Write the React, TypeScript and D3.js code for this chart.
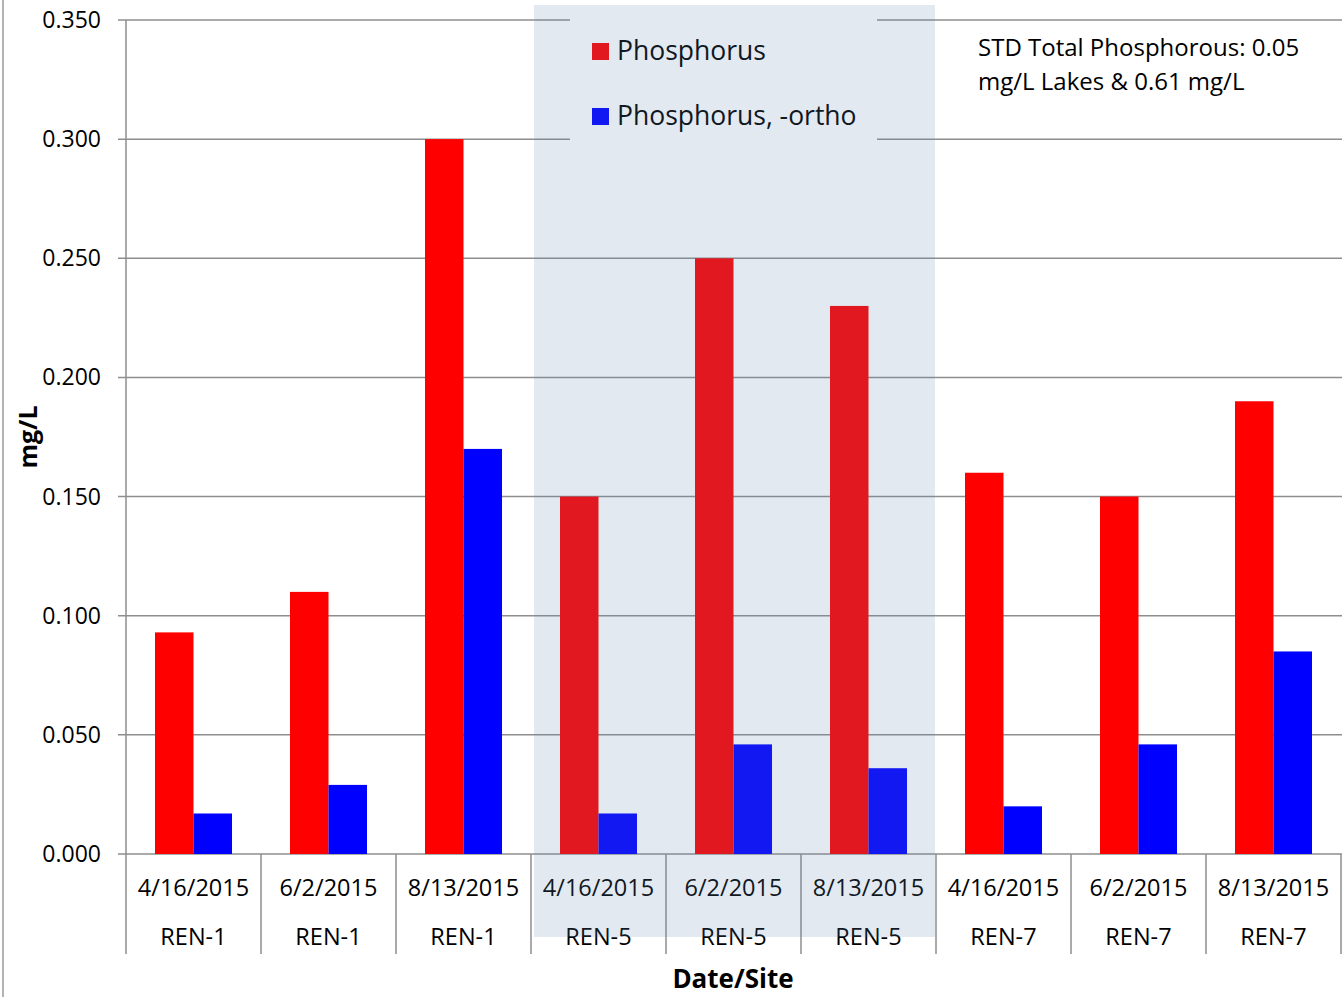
import React from "react";
import * as d3 from "d3";

const dates = ["4/16/2015", "6/2/2015", "8/13/2015", "4/16/2015", "6/2/2015", "8/13/2015", "4/16/2015", "6/2/2015", "8/13/2015"];
const sites = ["REN-1", "REN-1", "REN-1", "REN-5", "REN-5", "REN-5", "REN-7", "REN-7", "REN-7"];
const phosphorus = [0.093, 0.11, 0.3, 0.15, 0.25, 0.23, 0.16, 0.15, 0.19];
const orthoPhosphorus = [0.017, 0.029, 0.17, 0.017, 0.046, 0.036, 0.02, 0.046, 0.085];
const seriesNames = ["Phosphorus", "Phosphorus, -ortho"];
const seriesColors = ["#ff0000", "#0000ff"];
const yTicks = [0, 0.05, 0.1, 0.15, 0.2, 0.25, 0.3, 0.35];
const noteLines = ["STD Total Phosphorous: 0.05", "mg/L Lakes & 0.61 mg/L"];
const highlightedSite = "REN-5";

const W = 1342;
const H = 997;
const FONT = "'Open Sans', 'Noto Sans', sans-serif";

export default function App() {
  const left = 126;
  const right = 1341;
  const top = 20;
  const bottom = 854;
  const idx = dates.map((_, i) => i);
  const x = d3.scaleBand<number>().domain(idx).range([left, right]).paddingInner(0).paddingOuter(0);
  const xs = d3.scaleBand<number>().domain([0, 1]).range([0, x.bandwidth()]).paddingInner(0).paddingOuter(0.753);
  const y = d3.scaleLinear().domain([0, 0.35]).range([bottom, top]);
  const series = [phosphorus, orthoPhosphorus];
  const fmt = d3.format(".3f");
  const grid = "#8e8e8e";

  const hiIdx = idx.filter((i) => sites[i] === highlightedSite);
  const hiX0 = (x(hiIdx[0]) as number) + 3;
  const hiX1 = (x(hiIdx[hiIdx.length - 1]) as number) + x.bandwidth() - 1;

  return (
    <svg width={W} height={H} style={{ position: "absolute", left: 0, top: 0, background: "#fff" }} fontFamily={FONT}>
      <rect x={0} y={0} width={W} height={H} fill="#fff" />
      <line x1={3} x2={3} y1={0} y2={H} stroke="#9a9a9a" strokeWidth={1.5} />
      {/* gridlines */}
      {yTicks.map((t) => (
        <g key={t}>
          <line x1={118} x2={W} y1={y(t)} y2={y(t)} stroke={grid} strokeWidth={1.5} />
          <text x={101} y={y(t)} dy="0.35em" textAnchor="end" fontSize={23} fill="#000">
            {fmt(t)}
          </text>
        </g>
      ))}
      {/* y axis line */}
      <line x1={left} x2={left} y1={top} y2={954} stroke={grid} strokeWidth={1.5} />
      {/* category separators */}
      {idx.map((i) => (
        <line key={i} x1={(x(i) as number) + x.bandwidth()} x2={(x(i) as number) + x.bandwidth()} y1={bottom} y2={954} stroke={grid} strokeWidth={1.5} />
      ))}
      {/* bars */}
      {series.map((vals, s) =>
        vals.map((v, i) => (
          <rect
            key={`${s}-${i}`}
            x={(x(i) as number) + (xs(s) as number)}
            y={y(v)}
            width={xs.bandwidth()}
            height={bottom - y(v)}
            fill={seriesColors[s]}
          />
        ))
      )}
      {/* category labels */}
      {idx.map((i) => {
        const cx = (x(i) as number) + x.bandwidth() / 2;
        return (
          <g key={i}>
            <text x={cx} y={896} textAnchor="middle" fontSize={23.5} fill="#000">{dates[i]}</text>
            <text x={cx} y={945} textAnchor="middle" fontSize={23.5} fill="#000">{sites[i]}</text>
          </g>
        );
      })}
      {/* legend */}
      <rect x={570} y={5} width={307} height={140} fill="#fff" />
      {seriesNames.map((n, s) => (
        <g key={n}>
          <rect x={592} y={43 + s * 65} width={17} height={17} fill={seriesColors[s]} />
          <text x={617} y={60 + s * 65} fontSize={26.5} fill="#000">{n}</text>
        </g>
      ))}
      {/* highlight overlay */}
      <rect x={hiX0} y={5} width={hiX1 - hiX0} height={932} fill="rgb(94,133,178)" fillOpacity={0.18} />
      {/* note */}
      {noteLines.map((l, k) => (
        <text key={k} x={978} y={56 + k * 34} fontSize={24} fill="#000">{l}</text>
      ))}
      {/* axis titles */}
      <text x={733} y={988} textAnchor="middle" fontSize={26} fontWeight="bold" fill="#000">Date/Site</text>
      <text transform={`translate(37,437) rotate(-90)`} textAnchor="middle" fontSize={25} fontWeight="bold" fill="#000">mg/L</text>
    </svg>
  );
}
